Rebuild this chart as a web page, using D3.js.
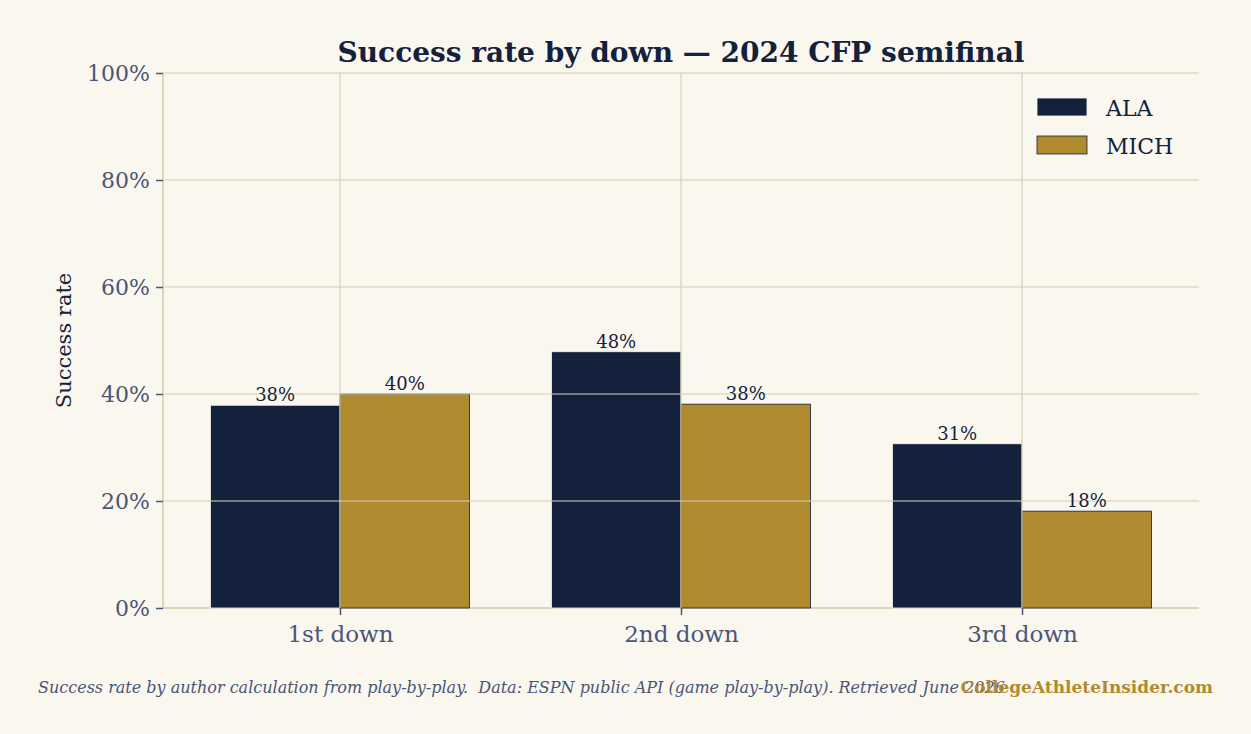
<!DOCTYPE html>
<html>
<head>
<meta charset="utf-8">
<script src="https://cdn.jsdelivr.net/npm/d3@7"></script>
<style>
  body { margin: 0; background: #faf7ef; }
  svg { display: block; }
</style>
</head>
<body>
<svg id="chart" width="1251" height="734"></svg>
<script>
// data
var downs = ["1st down", "2nd down", "3rd down"];
var teams = ["ALA", "MICH"];
var alaRate = [37.9, 47.9, 30.7];
var michRate = [40.0, 38.1, 18.1];
var yTicks = [0, 20, 40, 60, 80, 100];

var navy = "#14213d", gold = "#b08a2e", muted = "#4a5578", bg = "#faf7ef";
var font = "'DejaVu Serif', Georgia, serif";

var svg = d3.select("#chart"),
    margin = { top: 73, right: 52, bottom: 126, left: 163 },
    width = +svg.attr("width") - margin.left - margin.right,
    height = +svg.attr("height") - margin.top - margin.bottom;

svg.append("rect").attr("width", 1251).attr("height", 734).attr("fill", bg);

var g = svg.append("g").attr("transform", "translate(" + margin.left + "," + margin.top + ")");

var x = d3.scaleLinear().domain([-0.519, 2.519]).range([0, width]);
var y = d3.scaleLinear().domain([0, 100]).range([height, 0]);
var barW = 0.38;

var rows = downs.map(function (d, i) {
  return [{ team: "ALA", i: i, v: alaRate[i], off: -barW },
          { team: "MICH", i: i, v: michRate[i], off: 0 }];
});
var flat = [].concat.apply([], rows);

// spines
g.append("line").attr("x1", 0).attr("x2", 0).attr("y1", 0).attr("y2", height)
  .attr("stroke", "#ddd5bd").attr("stroke-width", 2);
g.append("line").attr("x1", 0).attr("x2", width).attr("y1", height).attr("y2", height)
  .attr("stroke", "#ddd5bd").attr("stroke-width", 2);

// bars
g.selectAll("rect.bar")
  .data(flat)
  .enter().append("rect")
  .attr("class", "bar")
  .attr("x", function (d) { return x(d.i + d.off); })
  .attr("width", function (d) { return x(barW) - x(0); })
  .attr("y", function (d) { return y(d.v); })
  .attr("height", function (d) { return height - y(d.v); })
  .attr("fill", function (d) { return d.team == "ALA" ? navy : gold; })
  .attr("stroke", function (d) { return d.team == "ALA" ? bg : navy; })
  .attr("stroke-width", 0.8);

// grid on top of bars
g.selectAll("line.hgrid")
  .data(yTicks.slice(1))
  .enter().append("line")
  .attr("x1", 0).attr("x2", width)
  .attr("y1", function (d) { return y(d); }).attr("y2", function (d) { return y(d); })
  .attr("stroke", "#d7ceb3").attr("stroke-opacity", 0.7).attr("stroke-width", 1.6);
g.selectAll("line.vgrid")
  .data(downs)
  .enter().append("line")
  .attr("x1", function (d, i) { return x(i); }).attr("x2", function (d, i) { return x(i); })
  .attr("y1", 0).attr("y2", height)
  .attr("stroke", "#d7ceb3").attr("stroke-opacity", 0.7).attr("stroke-width", 1.6);

// value labels
g.selectAll("text.val")
  .data(flat)
  .enter().append("text")
  .attr("x", function (d) { return x(d.i + d.off + barW / 2); })
  .attr("y", function (d) { return y(d.v) - 4; })
  .attr("text-anchor", "middle")
  .attr("font-family", font).attr("font-size", 18).attr("fill", navy)
  .text(function (d) { return Math.round(d.v) + "%"; });

// y axis
var yAxis = g.append("g")
  .call(d3.axisLeft(y).tickValues(yTicks).tickSize(7).tickPadding(6)
    .tickFormat(function (d) { return d + "%"; }));
yAxis.select(".domain").remove();
yAxis.selectAll("line").attr("stroke", muted).attr("stroke-width", 1.5);
yAxis.selectAll("text").attr("font-family", font).attr("font-size", 22).attr("fill", muted);

// x axis
var xAxis = g.append("g")
  .attr("transform", "translate(0," + height + ")")
  .call(d3.axisBottom(x).tickValues([0, 1, 2]).tickSize(7).tickPadding(11)
    .tickFormat(function (d) { return downs[d]; }));
xAxis.select(".domain").remove();
xAxis.selectAll("line").attr("stroke", muted).attr("stroke-width", 1.5);
xAxis.selectAll("text").attr("font-family", font).attr("font-size", 23).attr("fill", muted);

// y label
svg.append("text")
  .attr("transform", "translate(71," + (margin.top + height / 2) + ") rotate(-90)")
  .attr("text-anchor", "middle")
  .attr("font-family", font).attr("font-size", 21).attr("fill", navy)
  .text("Success rate");

// title
svg.append("text")
  .attr("x", margin.left + width / 2).attr("y", 62)
  .attr("text-anchor", "middle")
  .attr("font-family", font).attr("font-size", 28).attr("font-weight", "bold").attr("fill", navy)
  .text("Success rate by down \u2014 2024 CFP semifinal");

// legend
var legend = svg.append("g").attr("transform", "translate(1037,98)");
teams.forEach(function (t, i) {
  var row = legend.append("g").attr("transform", "translate(0," + (i * 38) + ")");
  row.append("rect").attr("width", 50).attr("height", 18)
    .attr("fill", t == "ALA" ? navy : gold)
    .attr("stroke", t == "ALA" ? bg : navy).attr("stroke-width", 0.8);
  row.append("text").attr("x", 69).attr("y", 18)
    .attr("font-family", font).attr("font-size", 22).attr("fill", navy)
    .text(t);
});

// footer (overlaps the watermark in the original too)
svg.append("text")
  .attr("x", 38).attr("y", 693)
  .style("white-space", "pre")
  .attr("font-family", font).attr("font-size", 16).attr("font-style", "italic").attr("fill", muted)
  .text("Success rate by author calculation from play-by-play.  Data: ESPN public API (game play-by-play). Retrieved June 2026");
svg.append("text")
  .attr("x", 1213).attr("y", 693)
  .attr("text-anchor", "end")
  .attr("font-family", font).attr("font-size", 17).attr("font-weight", "bold").attr("fill", gold)
  .text("CollegeAthleteInsider.com");
</script>
</body>
</html>
